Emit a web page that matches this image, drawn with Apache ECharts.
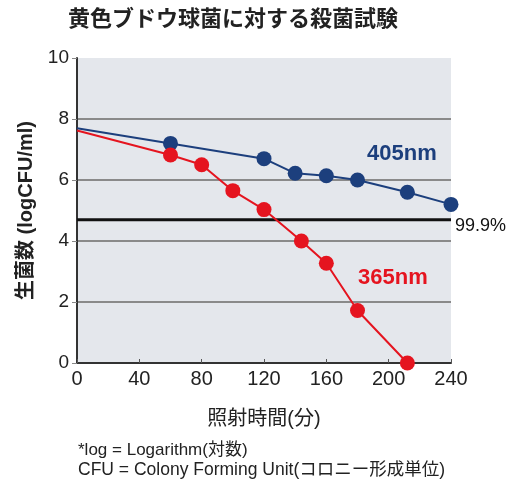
<!DOCTYPE html>
<html><head><meta charset="utf-8">
<script src="https://cdn.jsdelivr.net/npm/echarts@6/dist/echarts.min.js"></script>
<style>html,body{margin:0;padding:0;background:#fff}#c{width:509px;height:482px}</style>
</head><body><div id="c"></div>
<script>
const title = '黄色ブドウ球菌に対する殺菌試験';
const xTicks = [0, 40, 80, 120, 160, 200, 240];
const yTicks = [0, 2, 4, 6, 8, 10];
const time405 = [0, 60, 120, 140, 160, 180, 212, 240];
const value405 = [7.7, 7.2, 6.7, 6.22, 6.14, 6.0, 5.6, 5.2];
const time365 = [0, 60, 80, 100, 120, 144, 160, 180, 212];
const value365 = [7.62, 6.82, 6.5, 5.65, 5.03, 4.0, 3.27, 1.72, 0];
const threshold = 4.7;
const thresholdLabel = '99.9%';
const seriesNames = ['405nm', '365nm'];
const xName = '照射時間(分)';
const yName = '生菌数 (logCFU/ml)';
const notes = ['*log = Logarithm(対数)', 'CFU = Colony Forming Unit(コロニー形成単位)'];

const FONT = '"Liberation Sans", "Noto Sans CJK JP", sans-serif';
const BLUE = '#1c3f7d', RED = '#e5141f';
function pts(t, v) {
  return t.map((x, i) => i === 0 ? {value: [x, v[i]], symbol: 'none'} : [x, v[i]]);
}
const chart = echarts.init(document.getElementById('c'), null, {renderer: 'canvas'});
chart.setOption({
  animation: false,
  textStyle: {fontFamily: FONT},
  title: {text: title, left: 228, top: 4, textAlign: 'center',
    textStyle: {fontSize: 22, fontWeight: 'bold', color: '#222', fontFamily: FONT}},
  grid: {left: 77, right: 58, top: 58, bottom: 119, show: true, backgroundColor: '#e4e7ec', borderWidth: 0},
  xAxis: {type: 'value', min: xTicks[0], max: xTicks[xTicks.length - 1], interval: 40,
    name: xName, nameLocation: 'middle', nameGap: 46,
    nameTextStyle: {fontSize: 20, color: '#222', fontFamily: FONT},
    axisLine: {lineStyle: {color: '#333', width: 2}},
    axisTick: {inside: true, length: 4, lineStyle: {color: '#555'}},
    axisLabel: {fontSize: 20, color: '#222', margin: 6},
    splitLine: {show: false}},
  yAxis: {type: 'value', min: yTicks[0], max: yTicks[yTicks.length - 1], interval: 2,
    name: yName, nameLocation: 'middle', nameGap: 34, nameRotate: 90,
    nameTextStyle: {fontSize: 20, color: '#222', fontWeight: 'bold', fontFamily: FONT},
    axisLine: {show: true, lineStyle: {color: '#333', width: 2}},
    axisTick: {show: true, length: 5, lineStyle: {color: '#888'}},
    axisLabel: {fontSize: 19, color: '#222', margin: 8},
    splitLine: {lineStyle: {color: ['#8a8a8a', '#8a8a8a', '#8a8a8a', '#8a8a8a', '#8a8a8a', 'rgba(0,0,0,0)'], width: 2}}},
  series: [
    {type: 'line', name: 'threshold', data: [[xTicks[0], threshold], [xTicks[xTicks.length - 1], threshold]],
      symbol: 'none', lineStyle: {color: '#111', width: 3}, z: 1,
      endLabel: {show: true, formatter: thresholdLabel, fontSize: 18, color: '#111', offset: [-4, 6], fontFamily: FONT}},
    {type: 'line', name: seriesNames[0], data: pts(time405, value405), symbol: 'circle', symbolSize: 15,
      itemStyle: {color: BLUE}, lineStyle: {color: BLUE, width: 2}, z: 3},
    {type: 'line', name: seriesNames[1], data: pts(time365, value365), symbol: 'circle', symbolSize: 15,
      itemStyle: {color: RED}, lineStyle: {color: RED, width: 2}, z: 3}
  ],
  graphic: [
    {type: 'text', left: 367, top: 143, style: {text: seriesNames[0], fill: BLUE, font: 'bold 22px ' + FONT}},
    {type: 'text', left: 358, top: 267, style: {text: seriesNames[1], fill: RED, font: 'bold 22px ' + FONT}},
    {type: 'text', left: 78, top: 442, style: {text: notes[0], font: '17px ' + FONT, fill: '#222'}},
    {type: 'text', left: 78, top: 461, style: {text: notes[1], font: '17.5px ' + FONT, fill: '#222'}}
  ]
});
</script></body></html>
